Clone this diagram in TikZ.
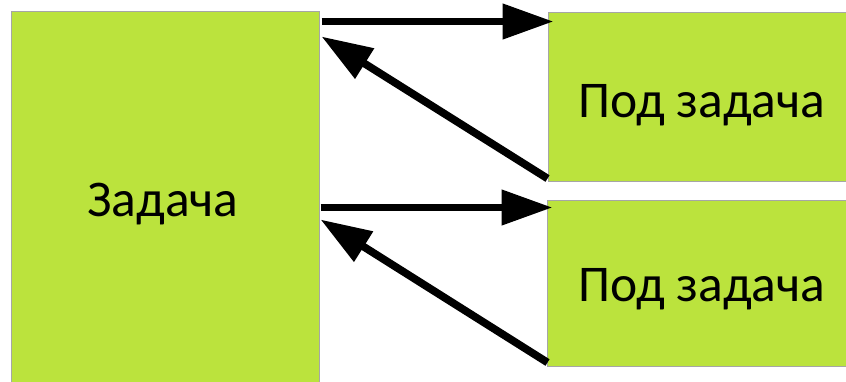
\documentclass[tikz,border=0pt]{standalone}
\usepackage{fontspec}
\setmainfont{Carlito}
\usetikzlibrary{arrows.meta}
\definecolor{lime}{RGB}{187,227,61}
\definecolor{edgegray}{RGB}{166,166,166}
\begin{document}
\begin{tikzpicture}[x=1pt,y=-1pt,
  box/.style={draw=edgegray,line width=1pt,fill=lime,inner sep=0pt},
  lbl/.style={anchor=base,font=\fontsize{51.5}{51.5}\selectfont,inner sep=0pt},
  link/.style={line width=7.7pt,-{Triangle[length=51pt,width=34pt]}}]
\useasboundingbox (0,0) rectangle (846,381);
\clip (0,0) rectangle (846,381);
\node[box,minimum width=308pt,minimum height=380pt] (L) at (165,201) {};
\node[box,minimum width=312pt,minimum height=169pt] (S1) at (704,96.5) {};
\node[box,minimum width=312pt,minimum height=166pt] (S2) at (703,283) {};
\node[lbl] (tL) at (163,216.5) {Задача};
\node[lbl] (t1) at (702,117) {Под задача};
\node[lbl] (t2) at (702,301.5) {Под задача};
\coordinate (f1s) at ([shift={(2,11)}]L.north east);
\coordinate (f1e) at ([shift={(6,10)}]S1.north west);
\coordinate (r1s) at ([shift={(0,-3)}]S1.south west);
\coordinate (r1e) at ([shift={(2,26)}]L.north east);
\coordinate (f2s) at ([shift={(1,197)}]L.north east);
\coordinate (f2e) at ([shift={(6,8)}]S2.north west);
\coordinate (r2s) at ([shift={(1,-4)}]S2.south west);
\coordinate (r2e) at ([shift={(1,209)}]L.north east);
\draw[link] (f1s) -- (f1e);
\draw[link] (r1s) -- (r1e);
\draw[link] (f2s) -- (f2e);
\draw[link] (r2s) -- (r2e);
\end{tikzpicture}
\end{document}
